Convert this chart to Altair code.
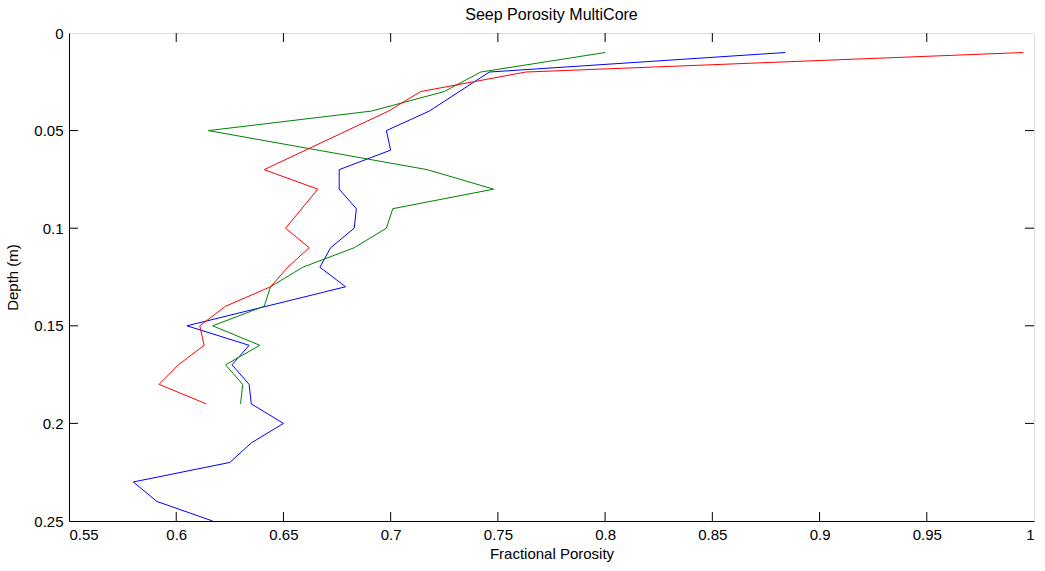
import altair as alt
import pandas as pd

# Porosity profiles (depth in metres, fractional porosity) for each core
blue_depth = [0.01, 0.02, 0.04, 0.05, 0.06, 0.07, 0.08, 0.09, 0.10, 0.11, 0.12, 0.13,
              0.15, 0.16, 0.17, 0.18, 0.19, 0.20, 0.21, 0.22, 0.23, 0.24, 0.25]
blue_por = [0.884, 0.746, 0.718, 0.698, 0.700, 0.676, 0.676, 0.684, 0.683, 0.672, 0.667, 0.679,
            0.605, 0.634, 0.626, 0.634, 0.635, 0.650, 0.635, 0.625, 0.580, 0.591, 0.617]

green_depth = [0.01, 0.02, 0.03, 0.04, 0.05, 0.07, 0.08, 0.09, 0.10, 0.11, 0.12, 0.13,
               0.14, 0.15, 0.16, 0.17, 0.18, 0.19]
green_por = [0.800, 0.742, 0.725, 0.691, 0.615, 0.717, 0.748, 0.701, 0.698, 0.683, 0.659, 0.644,
             0.641, 0.617, 0.639, 0.623, 0.631, 0.630]

red_depth = [0.01, 0.02, 0.03, 0.04, 0.07, 0.08, 0.10, 0.11, 0.12, 0.13, 0.14, 0.15,
             0.16, 0.17, 0.18, 0.19]
red_por = [0.995, 0.763, 0.714, 0.699, 0.641, 0.666, 0.651, 0.662, 0.652, 0.644, 0.623, 0.611,
           0.613, 0.601, 0.592, 0.614]

x_ticks = [0.55, 0.6, 0.65, 0.7, 0.75, 0.8, 0.85, 0.9, 0.95, 1.0]
y_ticks = [0, 0.05, 0.1, 0.15, 0.2, 0.25]

series = ["c1", "c2", "c3"]
colors = ["#0000ff", "#008000", "#ff0000"]

rows = []
for name, dep, por in zip(series, [blue_depth, green_depth, red_depth],
                          [blue_por, green_por, red_por]):
    for d, p in zip(dep, por):
        rows.append({"core": name, "depth": d, "porosity": p})
df = pd.DataFrame(rows)

W, H = 965, 488
TL = 9  # inward tick length
FONT = "Liberation Sans"

xscale = alt.Scale(domain=[0.55, 1.0], nice=False, zero=False)
yscale = alt.Scale(domain=[0, 0.25], reverse=True, nice=False, zero=False)

lab = dict(labelFont=FONT, labelFontSize=15, labelColor="black",
           titleFont=FONT, titleFontSize=15, titleColor="black",
           titleFontWeight="normal", ticks=False, grid=False,
           domainColor="black", domainWidth=1)

lines = alt.Chart(df).mark_line(strokeWidth=1, clip=True).encode(
    x=alt.X("porosity:Q", scale=xscale,
            axis=alt.Axis(values=x_ticks, format="~g", title="Fractional Porosity",
                          labelPadding=6, titlePadding=4, **lab)),
    y=alt.Y("depth:Q", scale=yscale,
            axis=alt.Axis(values=y_ticks, format="~g", title="Depth (m)",
                          labelPadding=6, titlePadding=13, **lab)),
    color=alt.Color("core:N", scale=alt.Scale(domain=series, range=colors), legend=None),
    order="depth:Q",
)

xt = pd.DataFrame({"v": x_ticks[1:-1]})
yt = pd.DataFrame({"v": y_ticks[1:-1]})

tick_style = dict(color="black", strokeWidth=1)
bottom_ticks = alt.Chart(xt).mark_rule(**tick_style).encode(
    x=alt.X("v:Q", scale=xscale), y=alt.value(H), y2=alt.value(H - TL))
top_ticks = alt.Chart(xt).mark_rule(**tick_style).encode(
    x=alt.X("v:Q", scale=xscale), y=alt.value(0), y2=alt.value(TL))
left_ticks = alt.Chart(yt).mark_rule(**tick_style).encode(
    y=alt.Y("v:Q", scale=yscale), x=alt.value(0), x2=alt.value(TL))
right_ticks = alt.Chart(yt).mark_rule(**tick_style).encode(
    y=alt.Y("v:Q", scale=yscale), x=alt.value(W), x2=alt.value(W - TL))

chart = alt.layer(lines, bottom_ticks, top_ticks, left_ticks, right_ticks).properties(
    width=W, height=H,
    title=alt.TitleParams("Seep Porosity MultiCore", font=FONT, fontSize=16,
                          fontWeight="normal", color="black", offset=3),
    autosize=alt.AutoSizeParams(type="none"),
    padding={"left": 69, "top": 33, "right": 11, "bottom": 50},
).configure_view(stroke="black", strokeWidth=1).configure(background="white")

chart.save("out.html", embed_options={"renderer": "svg", "actions": False})
